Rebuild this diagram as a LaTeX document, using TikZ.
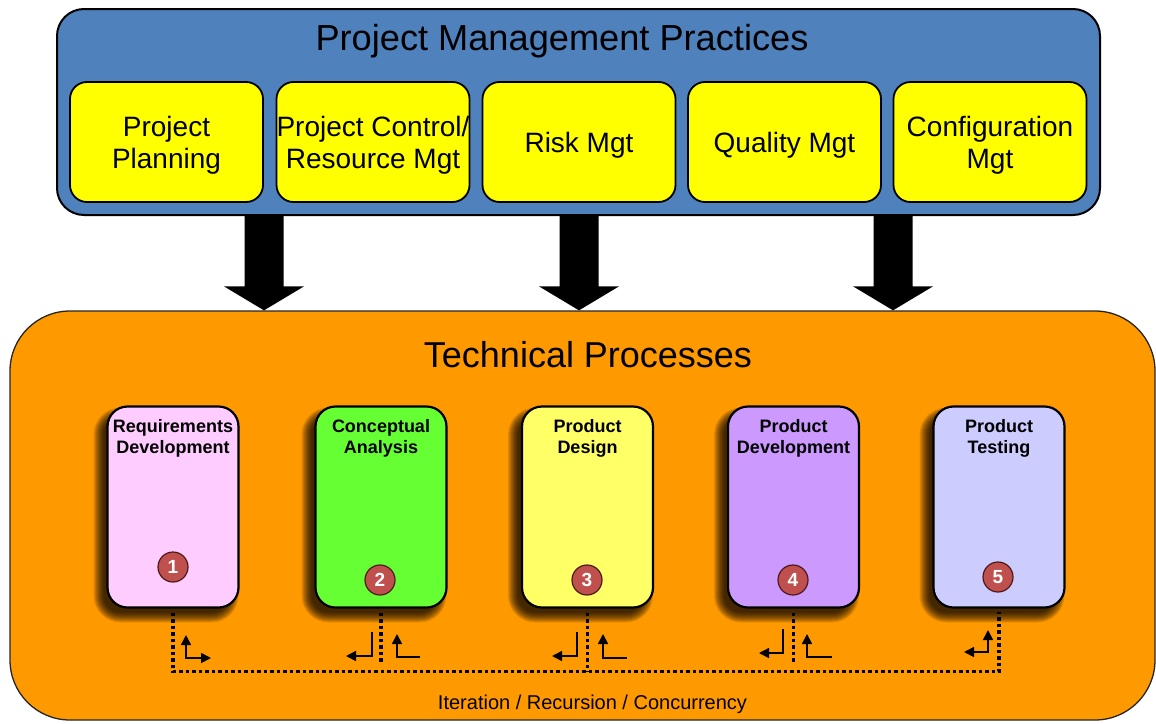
\documentclass[tikz,border=0pt]{standalone}
\usepackage{fontspec}
\setmainfont{Liberation Sans}
\usetikzlibrary{arrows.meta}
\definecolor{pmblue}{HTML}{4F81BD}
\definecolor{pmyellow}{HTML}{FFFF00}
\definecolor{tporange}{HTML}{FF9900}
\definecolor{cpink}{HTML}{FFCCFF}
\definecolor{cgreen}{HTML}{66FF33}
\definecolor{cyellow}{HTML}{FFFF66}
\definecolor{cpurple}{HTML}{CC99FF}
\definecolor{clav}{HTML}{CCCCFF}
\definecolor{cred}{HTML}{C0504D}
\definecolor{credline}{HTML}{4A1A18}
\tikzset{
  pmbox/.style={draw=black, line width=1.8pt, fill=pmyellow, rounded corners=17pt,
    minimum width=193pt, minimum height=120pt, inner sep=0pt},
  pmtext/.style={anchor=center, inner sep=0pt, yshift=-3pt, align=center,
    font=\fontsize{28}{32}\selectfont},
  procbox/.style={draw=black, line width=2.2pt, rounded corners=20pt,
    minimum width=131pt, minimum height=201pt, inner sep=0pt},
  proclabel/.style={anchor=north, inner sep=0pt, yshift=-14pt, align=center,
    font=\fontsize{18}{21}\selectfont\bfseries},
  numcirc/.style={circle, draw=credline, line width=1.2pt, fill=cred, text=white,
    minimum size=30pt, inner sep=0pt, font=\fontsize{19}{19}\selectfont\bfseries},
  loopline/.style={line width=3.5pt, dash pattern=on 3.5pt off 3pt},
  bentarrow/.style={line width=1.6pt},
  tipb/.tip={Triangle[length=10pt,width=10pt]}
}
\begin{document}
\begin{tikzpicture}[x=1pt,y=-1pt]
\useasboundingbox (0,0) rectangle (1156,723);
\fill[white] (0,0) rectangle (1156,723);

% Project management frame
\node[draw=black, line width=2pt, fill=pmblue, rounded corners=27pt,
  minimum width=1043pt, minimum height=206pt, inner sep=0pt] (pm) at (578.5,112) {};
\node[anchor=base, font=\fontsize{36.2}{40}\selectfont] (pmt) at (562,50) {Project Management Practices};
\node[pmbox, label={[pmtext]center:{Project\\Planning}}] (y1) at (166.5,142) {};
\node[pmbox, label={[pmtext]center:{Project Control/\\Resource Mgt}}] (y2) at (373,142) {};
\node[pmbox, label={[pmtext]center:{Risk Mgt}}] (y3) at (579,142) {};
\node[pmbox, label={[pmtext]center:{Quality Mgt}}] (y4) at (784.5,142) {};
\node[pmbox, label={[pmtext]center:{Configuration\\Mgt}}] (y5) at (990,142) {};

% Technical processes frame
\node[draw=black!85, line width=1.3pt, fill=tporange, rounded corners=60pt,
  minimum width=1145pt, minimum height=409pt, inner sep=0pt] (tp) at (582.5,515.5) {};
\node[anchor=base, font=\fontsize{36}{40}\selectfont] (tpt) at (588,367) {Technical Processes};

% block arrows
\foreach \ax in {264,579,893}{
  \path (pm.south -| \ax,0) coordinate (s) (tp.north -| \ax,0) coordinate (e);
  \fill[black] ([xshift=-19.5pt,yshift=1pt]s) -- ([xshift=-19.5pt,yshift=24pt]e)
    -- ([xshift=-40pt,yshift=24pt]e) -- (e) -- ([xshift=40pt,yshift=24pt]e)
    -- ([xshift=19.5pt,yshift=24pt]e) -- ([xshift=19.5pt,yshift=1pt]s) -- cycle;
}

% process boxes with soft shadows
\foreach \n/\cx/\col/\txt in {1/173/cpink/{Requirements\\Development},
    2/381/cgreen/{Conceptual\\Analysis},
    3/587.5/cyellow/{Product\\Design},
    4/793.5/cpurple/{Product\\Development},
    5/999/clav/{Product\\Testing}}{
  \foreach \e in {7,6,5,4,3,2,1,0,-1,-2,-3}{
    \fill[black, opacity=0.11, rounded corners=20pt+\e pt]
      (\cx-65.5-7-\e, 406.5+8-\e) rectangle (\cx+65.5-7+\e, 607.5+8+\e);
  }
  \node[procbox, fill=\col, label={[proclabel]north:{\txt}}] (p\n) at (\cx,507) {};
}

% step numbers
\node[numcirc] (c1) at (173,567) {1};
\node[numcirc] (c2) at (380,580) {2};
\node[numcirc] (c3) at (587,580) {3};
\node[numcirc] (c4) at (793,580) {4};
\node[numcirc] (c5) at (998,577) {5};

% iteration loop
\draw[loopline] ([yshift=-4pt]p1.south) -- ++(0,59) -| ([yshift=-3pt]p5.south);
\draw[loopline] ([yshift=-4pt]p2.south) -- ++(0,51);
\draw[loopline] ([yshift=-4pt]p3.south) -- ++(0,59);
\draw[loopline] ([yshift=-4pt]p4.south) -- ++(0,51);

% small bent arrows
\draw[bentarrow, tipb-tipb] (186,635) -- (186,658) -- (211,658);
\draw[bentarrow, -tipb] (372,632) -- (372,656) -- (346,656);
\draw[bentarrow, tipb-] (397,634) -- (397,657) -- (420,657);
\draw[bentarrow, -tipb] (577,632) -- (577,656) -- (552,656);
\draw[bentarrow, tipb-] (603,634) -- (603,658) -- (627,658);
\draw[bentarrow, -tipb] (783,629) -- (783,653) -- (759,653);
\draw[bentarrow, tipb-] (807,634) -- (807,657) -- (832,657);
\draw[bentarrow, tipb-tipb] (988,630) -- (988,652) -- (964,652);

\node[anchor=base, font=\fontsize{20}{24}\selectfont] (itr) at (592.5,709) {Iteration / Recursion / Concurrency};
\end{tikzpicture}
\end{document}
